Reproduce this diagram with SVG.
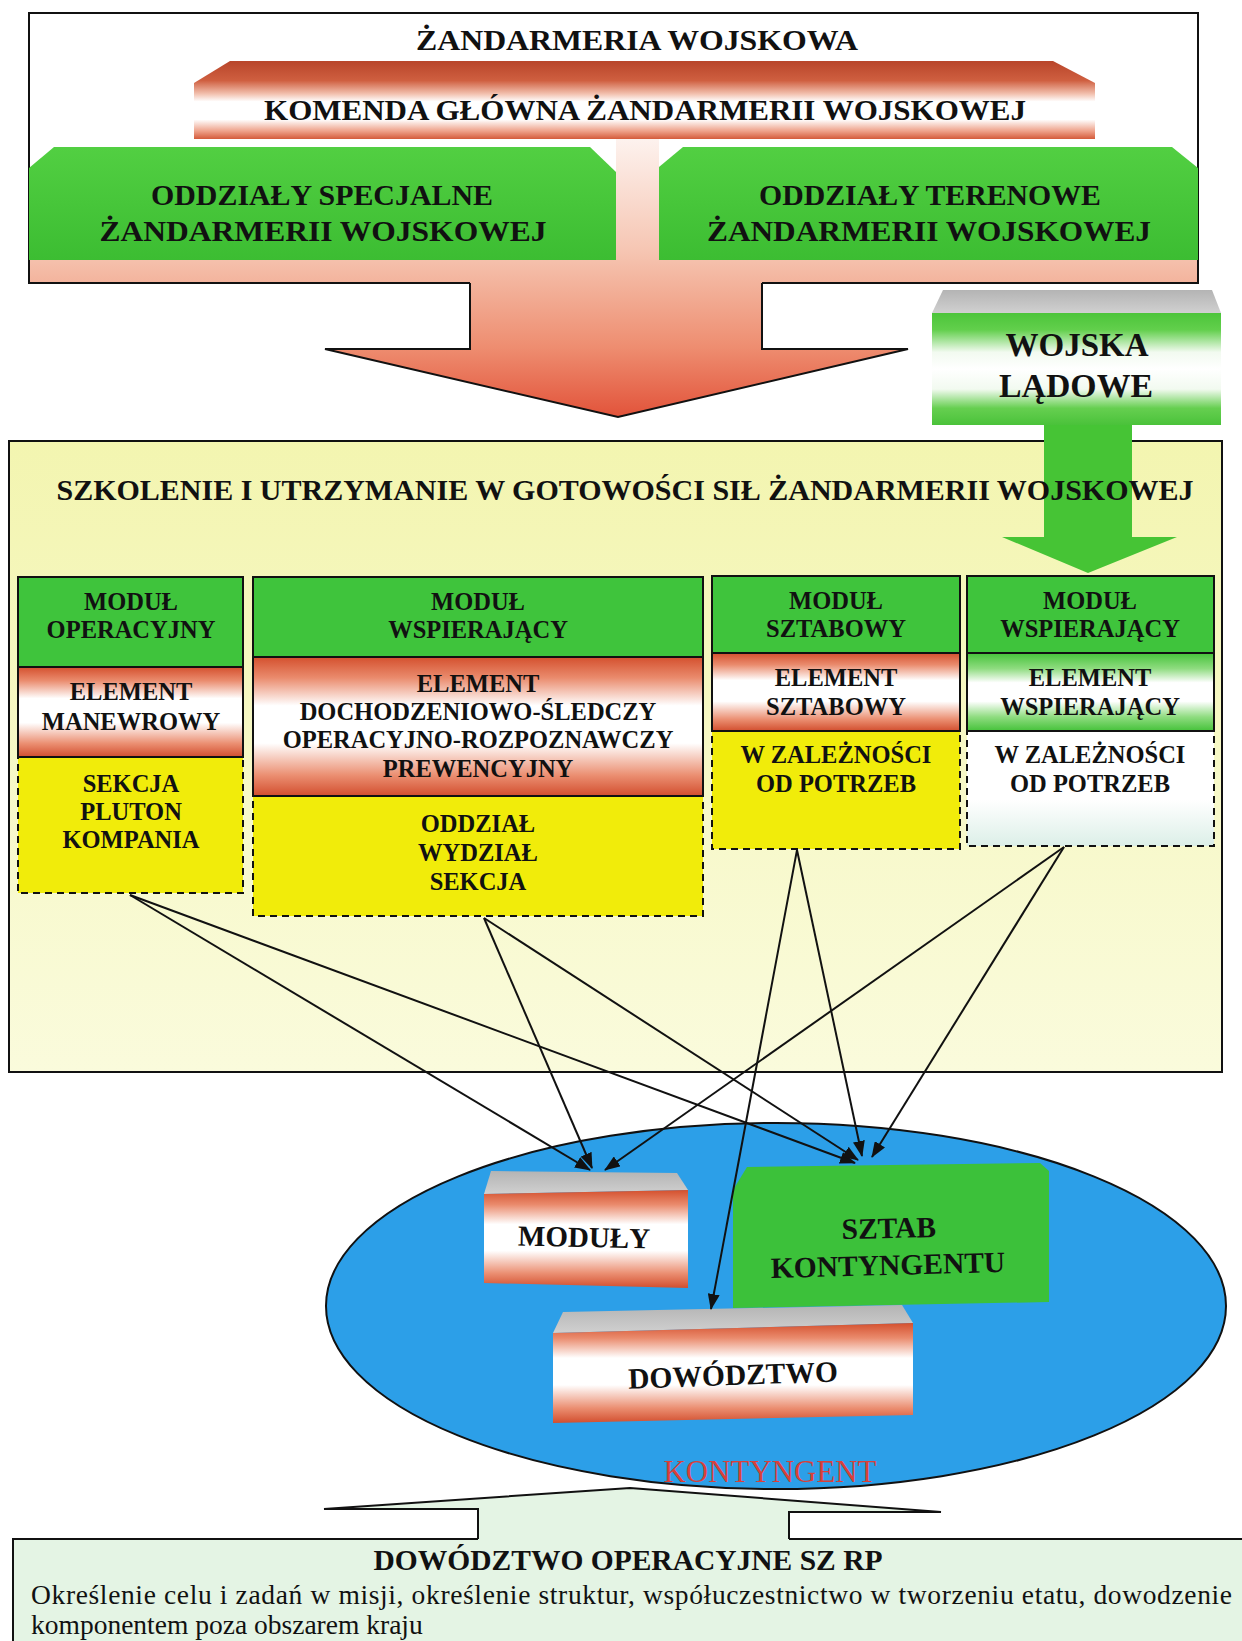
<svg xmlns="http://www.w3.org/2000/svg" width="1242" height="1641" viewBox="0 0 1242 1641">
<defs>
<style>
.t{font-family:"Liberation Serif","Times New Roman",serif;font-weight:bold;fill:#111;text-anchor:middle}
.m{font-size:24.5px}
.g{fill:#3fc43c}
.box{stroke:#111;stroke-width:2}
.dash{stroke:#111;stroke-width:2;stroke-dasharray:7,5}
.cn{stroke:#111;stroke-width:2;fill:none;marker-end:url(#ah)}
.gray{fill:url(#grayG)}
</style>
<marker id="ah" markerUnits="userSpaceOnUse" markerWidth="16" markerHeight="12" refX="15" refY="6" orient="auto">
<path d="M0,0 L16,6 L0,12 z" fill="#111"/>
</marker>
<linearGradient id="bigArrow" gradientUnits="userSpaceOnUse" x1="0" y1="139" x2="0" y2="417">
<stop offset="0" stop-color="#fdf2ee"/><stop offset="0.4" stop-color="#f6c6b3"/><stop offset="0.52" stop-color="#f3b39c"/><stop offset="0.75" stop-color="#ee8d70"/><stop offset="1" stop-color="#e2533a"/>
</linearGradient>
<linearGradient id="barG" gradientUnits="userSpaceOnUse" x1="0" y1="61" x2="0" y2="139">
<stop offset="0" stop-color="#b8452a"/><stop offset="0.25" stop-color="#cf5f40"/><stop offset="0.42" stop-color="#f2c0ae"/><stop offset="0.52" stop-color="#ffffff"/><stop offset="0.75" stop-color="#ffffff"/><stop offset="0.9" stop-color="#eea088"/><stop offset="1" stop-color="#d45a3a"/>
</linearGradient>
<linearGradient id="greenG" x1="0" y1="0" x2="0" y2="1">
<stop offset="0" stop-color="#52cf42"/><stop offset="1" stop-color="#3cbd32"/>
</linearGradient>
<linearGradient id="wlG" x1="0" y1="0" x2="0" y2="1">
<stop offset="0" stop-color="#4cc53a"/><stop offset="0.15" stop-color="#62cf4c"/><stop offset="0.35" stop-color="#f2faf0"/><stop offset="0.5" stop-color="#ffffff"/><stop offset="0.68" stop-color="#f2faf0"/><stop offset="0.85" stop-color="#66cf50"/><stop offset="1" stop-color="#4ac23a"/>
</linearGradient>
<linearGradient id="grayG" x1="0" y1="0" x2="0" y2="1">
<stop offset="0" stop-color="#b4b4b4"/><stop offset="1" stop-color="#d0d0d0"/>
</linearGradient>
<linearGradient id="yelBox" x1="0" y1="0" x2="0" y2="1">
<stop offset="0" stop-color="#f3f5b0"/><stop offset="1" stop-color="#fafbdc"/>
</linearGradient>
<linearGradient id="redW" x1="0" y1="0" x2="0" y2="1">
<stop offset="0" stop-color="#d4502e"/><stop offset="0.15" stop-color="#ea8b6d"/><stop offset="0.35" stop-color="#ffffff"/><stop offset="0.62" stop-color="#ffffff"/><stop offset="0.85" stop-color="#eb8f72"/><stop offset="1" stop-color="#d24e2e"/>
</linearGradient>
<linearGradient id="greenW" x1="0" y1="0" x2="0" y2="1">
<stop offset="0" stop-color="#45c23a"/><stop offset="0.2" stop-color="#8fdc80"/><stop offset="0.38" stop-color="#ffffff"/><stop offset="0.62" stop-color="#ffffff"/><stop offset="0.82" stop-color="#8fdc80"/><stop offset="1" stop-color="#45c23a"/>
</linearGradient>
<linearGradient id="whiteB" x1="0" y1="0" x2="0" y2="1">
<stop offset="0" stop-color="#ffffff"/><stop offset="0.6" stop-color="#ffffff"/><stop offset="1" stop-color="#dcefe8"/>
</linearGradient>
</defs>
<rect x="0" y="0" width="1242" height="1641" fill="#ffffff"/>

<g id="zw">
<rect x="29" y="13" width="1169" height="270" fill="#ffffff"/>
<text class="t" x="637" y="50" font-size="29" textLength="442" lengthAdjust="spacingAndGlyphs">ŻANDARMERIA WOJSKOWA</text>
</g>

<g id="big-arrow">
<polygon points="616,139 659,139 659,260 1198,260 1198,283 762,283 762,349 908,349 618,417 325,349 470,349 470,283 29,283 29,260 616,260" fill="url(#bigArrow)"/>
<path d="M470,283 V349 H325 L618,417 L908,349 H762 V283" fill="none" stroke="#111" stroke-width="2"/>
<path d="M470,283 H29 V13 H1198 V283 H762" fill="none" stroke="#111" stroke-width="2"/>
</g>

<g id="kgzw">
<polygon points="194,139 194,83 230,61 1053,61 1095,83 1095,139" fill="url(#barG)"/>
<text class="t" x="645" y="120" font-size="30" textLength="762" lengthAdjust="spacingAndGlyphs">KOMENDA GŁÓWNA ŻANDARMERII WOJSKOWEJ</text>
</g>

<g id="oddzialy-specjalne">
<polygon points="29,260 29,168 54,147 590,147 616,172 616,260" fill="url(#greenG)"/>
<text class="t" x="322" y="205" font-size="30" textLength="342" lengthAdjust="spacingAndGlyphs">ODDZIAŁY SPECJALNE</text>
<text class="t" x="323" y="241" font-size="30" textLength="447" lengthAdjust="spacingAndGlyphs">ŻANDARMERII WOJSKOWEJ</text>
</g>

<g id="oddzialy-terenowe">
<polygon points="659,260 659,167 683,147 1172,147 1198,168 1198,260" fill="url(#greenG)"/>
<text class="t" x="930" y="205" font-size="30" textLength="342" lengthAdjust="spacingAndGlyphs">ODDZIAŁY TERENOWE</text>
<text class="t" x="929" y="241" font-size="30" textLength="444" lengthAdjust="spacingAndGlyphs">ŻANDARMERII WOJSKOWEJ</text>
</g>

<g id="szkolenie">
<rect x="9" y="441" width="1213" height="631" fill="url(#yelBox)" stroke="#111" stroke-width="2"/>
</g>

<g id="wojska-ladowe">
<polygon points="943,290 1212,290 1221,313 932,313" class="gray"/>
<rect x="932" y="313" width="289" height="112" fill="url(#wlG)"/>
<text class="t" x="1077" y="356" font-size="33.5" textLength="143" lengthAdjust="spacingAndGlyphs">WOJSKA</text>
<text class="t" x="1076" y="397" font-size="33.5" textLength="154" lengthAdjust="spacingAndGlyphs">LĄDOWE</text>
<polygon points="1044,425 1132,425 1132,537 1177,537 1088,573 1002,537 1044,537" fill="#46c435"/>
</g>

<text class="t" x="625" y="500" font-size="30" textLength="1137" lengthAdjust="spacingAndGlyphs">SZKOLENIE I UTRZYMANIE W GOTOWOŚCI SIŁ ŻANDARMERII WOJSKOWEJ</text>

<g id="modul-operacyjny">
<rect x="18" y="757" width="225" height="136" fill="#f1ec0a" class="dash"/>
<rect x="18" y="667" width="225" height="90" fill="url(#redW)" class="box"/>
<rect x="18" y="577" width="225" height="90" class="g box"/>
<text class="t m" x="131" y="610">MODUŁ</text>
<text class="t m" x="131" y="638">OPERACYJNY</text>
<text class="t m" x="131" y="700">ELEMENT</text>
<text class="t m" x="131" y="730">MANEWROWY</text>
<text class="t m" x="131" y="792">SEKCJA</text>
<text class="t m" x="131" y="820">PLUTON</text>
<text class="t m" x="131" y="848">KOMPANIA</text>
</g>

<g id="modul-wspierajacy-1">
<rect x="253" y="796" width="450" height="120" fill="#f1ec0a" class="dash"/>
<rect x="253" y="657" width="450" height="139" fill="url(#redW)" class="box"/>
<rect x="253" y="577" width="450" height="80" class="g box"/>
<text class="t m" x="478" y="610">MODUŁ</text>
<text class="t m" x="478" y="638">WSPIERAJĄCY</text>
<text class="t m" x="478" y="692">ELEMENT</text>
<text class="t m" x="478" y="720">DOCHODZENIOWO-ŚLEDCZY</text>
<text class="t m" x="478" y="748">OPERACYJNO-ROZPOZNAWCZY</text>
<text class="t m" x="478" y="777">PREWENCYJNY</text>
<text class="t m" x="478" y="832">ODDZIAŁ</text>
<text class="t m" x="478" y="861">WYDZIAŁ</text>
<text class="t m" x="478" y="890">SEKCJA</text>
</g>

<g id="modul-sztabowy">
<rect x="712" y="731" width="248" height="118" fill="#f1ec0a" class="dash"/>
<rect x="712" y="653" width="248" height="78" fill="url(#redW)" class="box"/>
<rect x="712" y="576" width="248" height="77" class="g box"/>
<text class="t m" x="836" y="609">MODUŁ</text>
<text class="t m" x="836" y="637">SZTABOWY</text>
<text class="t m" x="836" y="686">ELEMENT</text>
<text class="t m" x="836" y="715">SZTABOWY</text>
<text class="t m" x="836" y="763">W ZALEŻNOŚCI</text>
<text class="t m" x="836" y="792">OD POTRZEB</text>
</g>

<g id="modul-wspierajacy-2">
<rect x="967" y="731" width="247" height="115" fill="url(#whiteB)" class="dash"/>
<rect x="967" y="653" width="247" height="78" fill="url(#greenW)" class="box"/>
<rect x="967" y="576" width="247" height="77" class="g box"/>
<text class="t m" x="1090" y="609">MODUŁ</text>
<text class="t m" x="1090" y="637">WSPIERAJĄCY</text>
<text class="t m" x="1090" y="686">ELEMENT</text>
<text class="t m" x="1090" y="715">WSPIERAJĄCY</text>
<text class="t m" x="1090" y="763">W ZALEŻNOŚCI</text>
<text class="t m" x="1090" y="792">OD POTRZEB</text>
</g>

<g id="kontyngent">
<ellipse cx="776" cy="1306" rx="450" ry="183" fill="#2c9fe8" stroke="#111" stroke-width="2"/>
<text x="770" y="1482" font-family="'Liberation Serif','Times New Roman',serif" font-size="31" fill="#d8403a" text-anchor="middle" textLength="213" lengthAdjust="spacingAndGlyphs">KONTYNGENT</text>
</g>

<g id="moduly">
<polygon points="491,1171 677,1173 688,1190 484,1194" class="gray"/>
<polygon points="484,1194 688,1190 688,1288 484,1283" fill="url(#redW)"/>
<text class="t" x="584" y="1247" font-size="29" transform="rotate(1.3 584 1240)">MODUŁY</text>
</g>

<g id="sztab-kontyngentu">
<polygon points="733,1190 747,1167 1040,1163 1049,1171 1049,1302 733,1308" fill="#3cc13a"/>
<text class="t" x="889" y="1238" font-size="29.5" transform="rotate(-1.2 889 1238)">SZTAB</text>
<text class="t" x="888" y="1275" font-size="29.5" transform="rotate(-1.5 888 1265)">KONTYNGENTU</text>
</g>

<g id="dowodztwo">
<polygon points="563,1312 902,1305 913,1323 553,1333" class="gray"/>
<polygon points="553,1333 913,1323 913,1415 553,1423" fill="url(#redW)"/>
<text class="t" x="733" y="1385" font-size="29.5" transform="rotate(-2 733 1375)">DOWÓDZTWO</text>
</g>

<g id="connectors">
<line class="cn" x1="130" y1="895" x2="590" y2="1170"/>
<line class="cn" x1="130" y1="895" x2="855" y2="1163"/>
<line class="cn" x1="484" y1="918" x2="592" y2="1168"/>
<line class="cn" x1="484" y1="918" x2="858" y2="1160"/>
<line class="cn" x1="797" y1="850" x2="711" y2="1309"/>
<line class="cn" x1="797" y1="850" x2="862" y2="1156"/>
<line class="cn" x1="1064" y1="847" x2="605" y2="1170"/>
<line class="cn" x1="1064" y1="847" x2="872" y2="1157"/>
</g>

<g id="dowodztwo-operacyjne">
<rect x="13" y="1539" width="1240" height="110" fill="#e4f4e4"/>
<polygon points="478,1540 478,1509 324,1510 630,1488 941,1512 789,1512 789,1540" fill="#e4f4e4"/>
<path d="M478,1539 V1509 H324 L630,1488 L941,1512 H789 V1539" fill="none" stroke="#111" stroke-width="2"/>
<path d="M13,1645 V1539 H478 M789,1539 H1242" fill="none" stroke="#111" stroke-width="2"/>
<text class="t" x="628" y="1570" font-size="29.5">DOWÓDZTWO OPERACYJNE SZ RP</text>
<text x="31" y="1604" font-family="'Liberation Serif','Times New Roman',serif" font-size="27.5" fill="#111" textLength="1201" lengthAdjust="spacing">Określenie celu i zadań w misji, określenie struktur, współuczestnictwo w tworzeniu etatu, dowodzenie</text>
<text x="31" y="1634" font-family="'Liberation Serif','Times New Roman',serif" font-size="27.5" fill="#111">komponentem poza obszarem kraju</text>
</g>
</svg>
